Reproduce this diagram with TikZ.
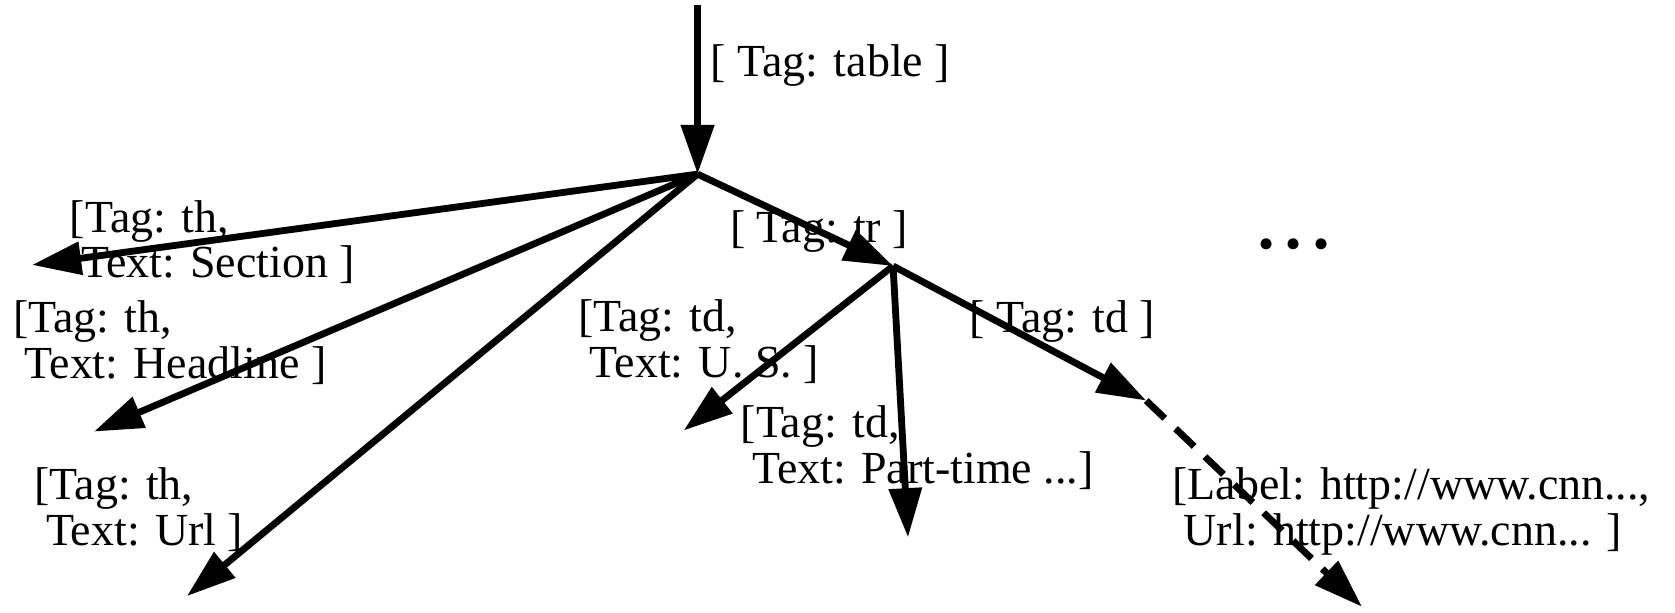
\documentclass[tikz,border=0pt]{standalone}
\usepackage{fontspec}
\setmainfont{Liberation Serif}
\usetikzlibrary{arrows.meta}

\begin{document}
\begin{tikzpicture}[x=0.5pt,y=-0.5pt,
		edge/.style={line width=3.2pt, -{Triangle[length=23pt,width=15pt]}},
		lbl/.style={anchor=north west, inner sep=0pt, align=left, font=\fontsize{21.5pt}{21.5pt}\selectfont}]
		\useasboundingbox (0,0) rectangle (1568,573);
		
		% tree points
		\coordinate (top) at (653,5);
		\coordinate (root) at (653,163);
		\coordinate (tr) at (836,249);
		\coordinate (sec) at (30,248);
		\coordinate (head) at (88,404);
		\coordinate (url) at (175,558);
		\coordinate (us) at (640,403);
		\coordinate (part) at (850,503);
		\coordinate (td) at (1073,375);
		\coordinate (link) at (1275,568);
		
		\draw [edge, line width=3.4pt] (top) -- (root);
		\draw [edge] (root) -- (sec);
		\draw [edge] (root) -- (head);
		\draw [edge] (root) -- (url);
		\draw [edge] (root) -- (tr);
		\draw [edge] (tr) -- (us);
		\draw [edge] (tr) -- (part);
		\draw [edge] (tr) -- (td);
		\draw [edge, dash pattern=on 12pt off 7pt] (td) -- (link);
		
		\node [lbl] (ltable) at (665,41) {[ Tag: table ]};
		\node [lbl] (lsec) at (65,187) {[Tag: th,\\\ Text: Section ]};
		\node [lbl] (lhead) at (12,281) {[Tag: th,\\\ Text: Headline ]};
		\node [lbl] (lurl) at (32,437) {[Tag: th,\\\ Text: Url ]};
		\node [lbl] (ltr) at (683,197) {[ Tag: tr ]};
		\node [lbl] (lus) at (541,280) {[Tag: td,\\\ Text: U. S. ]};
		\node [lbl] (lpart) at (693,379) {[Tag: td,\\\ Text: Part-time ...]};
		\node [lbl] (ltd) at (907,281) {[ Tag: td ]};
		\node [lbl] (llink) at (1097,437) {[Label: http://www.cnn...,\\\ Url: http://www.cnn... ]};
		\node [font=\fontsize{21.5pt}{21.5pt}\selectfont, inner sep=0pt] (more) at (1211,233) {• • •};
	\end{tikzpicture}
\end{document}
